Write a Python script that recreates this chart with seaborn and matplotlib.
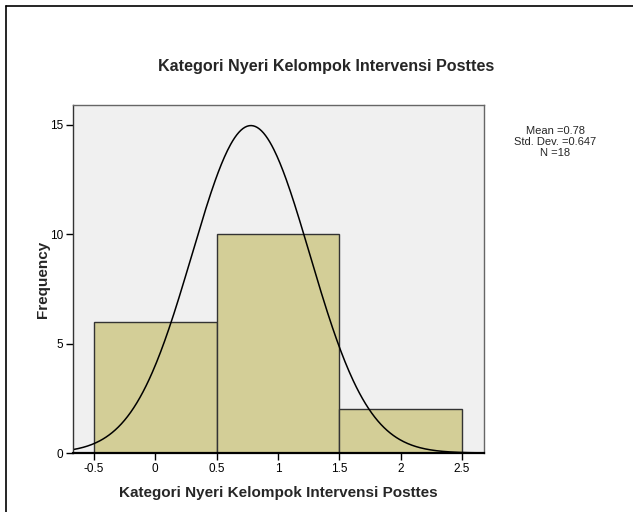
import numpy as np
import pandas as pd
import matplotlib
matplotlib.use("Agg")
import matplotlib.pyplot as plt
import seaborn as sns

# Data
categories = [0, 1, 2]
counts = [6, 10, 2]
stat_mean = 0.78
stat_sd = 0.647
stat_n = 18
# normal curve as drawn (peak ~14.9 at 0.78)
curve_mean = 0.78
curve_sd = 0.48
curve_n = 18

title = "Kategori Nyeri Kelompok Intervensi Posttes"
xlabel = "Kategori Nyeri Kelompok Intervensi Posttes"
ylabel = "Frequency"
xticks = [-0.5, 0, 0.5, 1, 1.5, 2, 2.5]
xticklabels = ["-0.5", "0", "0.5", "1", "1.5", "2", "2.5"]
yticks = [0, 5, 10, 15]

sns.set_style("white")
plt.rcParams['font.family'] = ['Liberation Sans', 'DejaVu Sans']

fig = plt.figure(figsize=(6.33, 5.12), dpi=100)
ax = fig.add_axes([73/633, 1-453/512, (484-73)/633, (453-105)/512])
ax.set_facecolor("#F0F0F0")

df = pd.DataFrame({"value": categories, "count": counts})
sns.histplot(data=df, x="value", weights="count", discrete=True, ax=ax,
             color="#D3CE97", alpha=1, edgecolor="#333333", linewidth=1.0)

xs = np.linspace(-0.67, 2.68, 400)
ys = curve_n * np.exp(-0.5 * ((xs - curve_mean) / curve_sd) ** 2) / (curve_sd * np.sqrt(2 * np.pi))
sns.lineplot(x=xs, y=ys, ax=ax, color="black", linewidth=1.1)

ax.set_xlim(-0.67, 2.68)
ax.set_ylim(0, 15.9)
ax.set_xticks(xticks)
ax.set_xticklabels(xticklabels)
ax.set_yticks(yticks)
ax.tick_params(axis="both", direction="out", length=5, width=1, labelsize=8.5,
               colors="black", pad=2)
ax.tick_params(axis="x", bottom=True)
ax.tick_params(axis="y", left=True)

for s in ["top", "right"]:
    ax.spines[s].set_color("#666666")
    ax.spines[s].set_linewidth(1.0)
ax.spines["left"].set_color("#333333")
ax.spines["left"].set_linewidth(1.0)
ax.spines["bottom"].set_color("black")
ax.spines["bottom"].set_linewidth(1.6)

ax.set_xlabel(xlabel, fontsize=11, fontweight="bold", labelpad=8)
ax.set_ylabel(ylabel, fontsize=11, fontweight="bold", labelpad=0)

fig.text(326/633, 1-67/512, title, ha="center", va="center", fontsize=11.6, fontweight="bold")
fig.text(555/633, 1-131/512, f"Mean ={stat_mean}", ha="center", va="center", fontsize=8)
fig.text(555/633, 1-142/512, f"Std. Dev. ={stat_sd}", ha="center", va="center", fontsize=8)
fig.text(555/633, 1-153/512, f"N ={stat_n}", ha="center", va="center", fontsize=8)

# figure border lines (top and left)
fig.add_artist(plt.Line2D([6/633, 1], [1-6/512, 1-6/512], color="black", linewidth=1.2, transform=fig.transFigure))
fig.add_artist(plt.Line2D([6/633, 6/633], [0, 1-6/512], color="black", linewidth=1.2, transform=fig.transFigure))

fig.savefig("out.png", dpi=100)
